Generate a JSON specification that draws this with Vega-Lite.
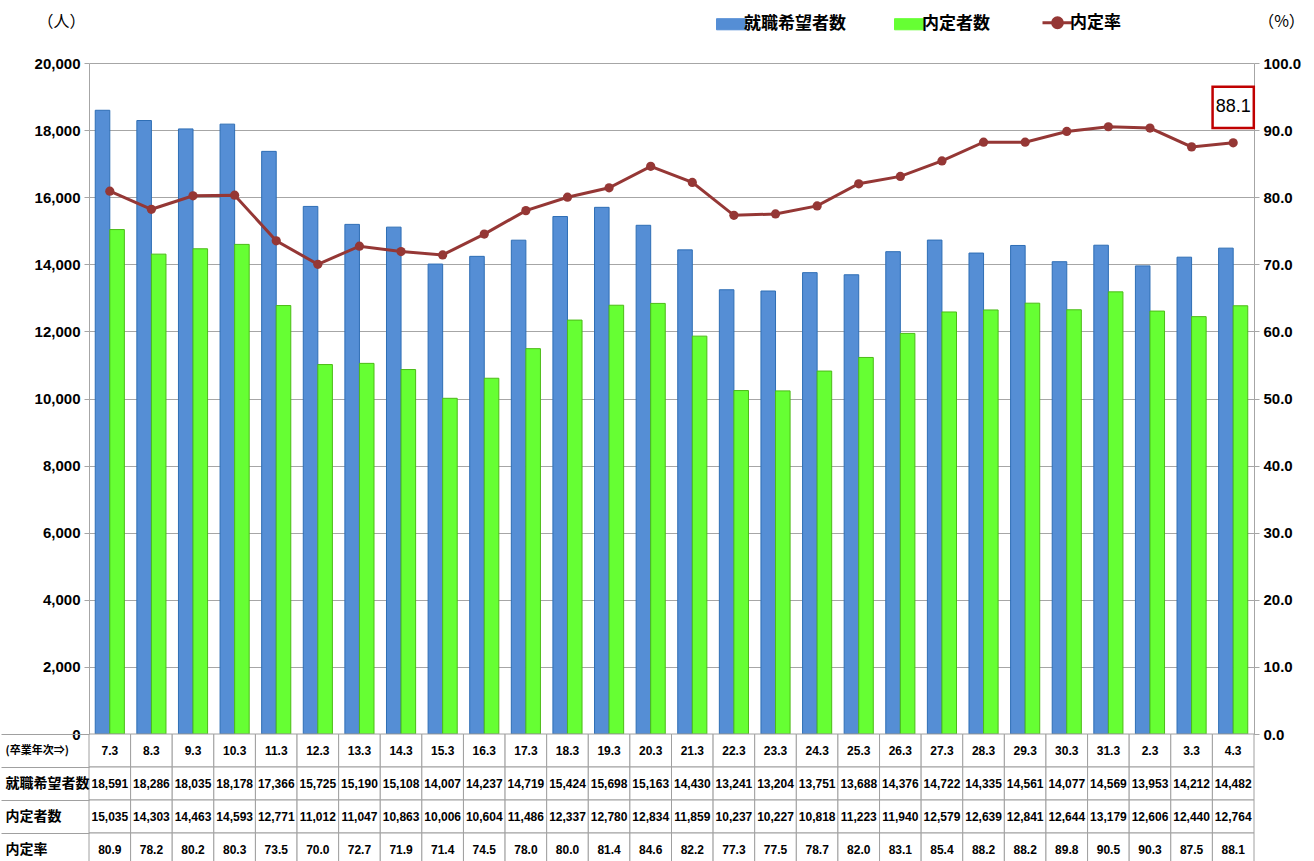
{
  "$schema": "https://vega.github.io/schema/vega-lite/v6.json",
  "padding": {"left": 0, "top": 13, "right": 0, "bottom": 0},
  "spacing": 0,
  "bounds": "flush",
  "datasets": {
    "rows": [
      {"年次": "7.3", "就職希望者数": 18591, "内定者数": 15035, "内定率": 80.9},
      {"年次": "8.3", "就職希望者数": 18286, "内定者数": 14303, "内定率": 78.2},
      {"年次": "9.3", "就職希望者数": 18035, "内定者数": 14463, "内定率": 80.2},
      {"年次": "10.3", "就職希望者数": 18178, "内定者数": 14593, "内定率": 80.3},
      {"年次": "11.3", "就職希望者数": 17366, "内定者数": 12771, "内定率": 73.5},
      {"年次": "12.3", "就職希望者数": 15725, "内定者数": 11012, "内定率": 70.0},
      {"年次": "13.3", "就職希望者数": 15190, "内定者数": 11047, "内定率": 72.7},
      {"年次": "14.3", "就職希望者数": 15108, "内定者数": 10863, "内定率": 71.9},
      {"年次": "15.3", "就職希望者数": 14007, "内定者数": 10006, "内定率": 71.4},
      {"年次": "16.3", "就職希望者数": 14237, "内定者数": 10604, "内定率": 74.5},
      {"年次": "17.3", "就職希望者数": 14719, "内定者数": 11486, "内定率": 78.0},
      {"年次": "18.3", "就職希望者数": 15424, "内定者数": 12337, "内定率": 80.0},
      {"年次": "19.3", "就職希望者数": 15698, "内定者数": 12780, "内定率": 81.4},
      {"年次": "20.3", "就職希望者数": 15163, "内定者数": 12834, "内定率": 84.6},
      {"年次": "21.3", "就職希望者数": 14430, "内定者数": 11859, "内定率": 82.2},
      {"年次": "22.3", "就職希望者数": 13241, "内定者数": 10237, "内定率": 77.3},
      {"年次": "23.3", "就職希望者数": 13204, "内定者数": 10227, "内定率": 77.5},
      {"年次": "24.3", "就職希望者数": 13751, "内定者数": 10818, "内定率": 78.7},
      {"年次": "25.3", "就職希望者数": 13688, "内定者数": 11223, "内定率": 82.0},
      {"年次": "26.3", "就職希望者数": 14376, "内定者数": 11940, "内定率": 83.1},
      {"年次": "27.3", "就職希望者数": 14722, "内定者数": 12579, "内定率": 85.4},
      {"年次": "28.3", "就職希望者数": 14335, "内定者数": 12639, "内定率": 88.2},
      {"年次": "29.3", "就職希望者数": 14561, "内定者数": 12841, "内定率": 88.2},
      {"年次": "30.3", "就職希望者数": 14077, "内定者数": 12644, "内定率": 89.8},
      {"年次": "31.3", "就職希望者数": 14569, "内定者数": 13179, "内定率": 90.5},
      {"年次": "2.3", "就職希望者数": 13953, "内定者数": 12606, "内定率": 90.3},
      {"年次": "3.3", "就職希望者数": 14212, "内定者数": 12440, "内定率": 87.5},
      {"年次": "4.3", "就職希望者数": 14482, "内定者数": 12764, "内定率": 88.1}
    ]
  },
  "vconcat": [
    {
      "width": 1165,
      "height": 671,
      "data": {"name": "rows"},
      "layer": [
        {
          "transform": [{"fold": ["就職希望者数", "内定者数"], "as": ["series", "value"]}],
          "mark": {"type": "bar", "strokeWidth": 1},
          "encoding": {
            "x": {"field": "年次", "type": "nominal", "sort": null, "axis": null,
                  "scale": {"paddingInner": 0.3, "paddingOuter": 0.15}},
            "xOffset": {"field": "series", "type": "nominal", "sort": ["就職希望者数", "内定者数"]},
            "y": {"field": "value", "type": "quantitative",
                  "scale": {"domain": [0, 20000], "nice": false},
                  "axis": {"title": "（人）", "titleAngle": 0, "titleX": -28, "titleY": -42,
                           "titleAlign": "center", "titleBaseline": "middle",
                           "titleFont": "Noto Sans CJK JP", "titleFontSize": 16, "titleFontWeight": "normal",
                           "values": [0, 2000, 4000, 6000, 8000, 10000, 12000, 14000, 16000, 18000, 20000],
                           "format": ",.0f", "grid": true, "gridColor": "#a6a6a6",
                           "domainColor": "#a6a6a6", "tickColor": "#a6a6a6", "tickSize": 5,
                           "labelFont": "Liberation Sans, Arial, sans-serif",
                           "labelFontWeight": "bold", "labelFontSize": 15, "labelColor": "#000000", "labelPadding": 4}},
            "color": {"field": "series", "type": "nominal",
                      "scale": {"domain": ["就職希望者数", "内定者数", "内定率"], "range": ["#558ED5", "#66FF33", "#953735"]},
                      "legend": {"orient": "none", "legendX": 634, "legendY": -49, "direction": "horizontal",
                                 "title": null, "symbolSize": 900, "columnPadding": 46, "labelOffset": 4,
                                 "labelFont": "Noto Sans CJK JP", "labelFontWeight": "bold", "labelFontSize": 17,
                                 "labelColor": "#000000",
                                 "encode": {"symbols": {"update": {
                                   "shape": {"signal": "datum.value === '内定率' ? 'M-1,0H1M-0.33,0A0.33,0.33,0,1,1,0.33,0A0.33,0.33,0,1,1,-0.33,0Z' : 'M-1,-0.37H1V0.37H-1Z'"},
                                   "fill": {"signal": "datum.value === '内定率' ? '#953735' : datum.value === '内定者数' ? '#66FF33' : '#558ED5'"},
                                   "stroke": {"signal": "datum.value === '内定率' ? '#953735' : datum.value === '内定者数' ? '#4CBB17' : '#2E6EB5'"},
                                   "strokeWidth": {"signal": "datum.value === '内定率' ? 3 : 1"},
                                   "opacity": {"value": 1}, "fillOpacity": {"value": 1}}}}}},
            "stroke": {"field": "series", "type": "nominal",
                       "scale": {"domain": ["就職希望者数", "内定者数"], "range": ["#2E6EB5", "#4CBB17"]},
                       "legend": null}
          }
        },
        {
          "mark": {"type": "line", "strokeWidth": 3, "point": {"filled": true, "size": 85}},
          "encoding": {
            "x": {"field": "年次", "type": "nominal", "sort": null},
            "y": {"field": "内定率", "type": "quantitative",
                  "scale": {"domain": [0, 100], "nice": false},
                  "axis": {"orient": "right", "title": "（%）", "titleAngle": 0, "titleX": 27, "titleY": -42,
                           "titleAlign": "center", "titleBaseline": "middle",
                           "titleFont": "Noto Sans CJK JP", "titleFontSize": 16, "titleFontWeight": "normal",
                           "values": [0, 10, 20, 30, 40, 50, 60, 70, 80, 90, 100],
                           "format": ".1f", "grid": false,
                           "domainColor": "#a6a6a6", "tickColor": "#a6a6a6", "tickSize": 5,
                           "labelFont": "Liberation Sans, Arial, sans-serif",
                           "labelFontWeight": "bold", "labelFontSize": 15, "labelColor": "#000000", "labelPadding": 4}},
            "color": {"datum": "内定率"}
          }
        },
        {
          "transform": [{"filter": "datum['年次'] === '4.3'"}],
          "mark": {"type": "point", "shape": "square", "size": 1700, "filled": false, "stroke": "#C00000", "strokeWidth": 2.5, "opacity": 1},
          "encoding": {
            "x": {"field": "年次", "type": "nominal", "sort": null},
            "y": {"datum": 93.4, "type": "quantitative", "scale": {"domain": [0, 100], "nice": false}, "axis": null}
          }
        },
        {
          "transform": [{"filter": "datum['年次'] === '4.3'"}],
          "mark": {"type": "text", "font": "Liberation Sans, Arial, sans-serif", "fontSize": 18, "color": "#000000", "baseline": "middle", "align": "center"},
          "encoding": {
            "x": {"field": "年次", "type": "nominal", "sort": null},
            "y": {"datum": 93.4, "type": "quantitative", "scale": {"domain": [0, 100], "nice": false}, "axis": null},
            "text": {"field": "内定率", "type": "quantitative", "format": ".1f"}
          }
        }
      ],
      "resolve": {"scale": {"y": "independent"}}
    },
    {
      "width": 1165,
      "height": 132,
      "data": {"name": "rows"},
      "encoding": {
        "x": {"field": "年次", "type": "nominal", "sort": null, "axis": null,
              "scale": {"paddingInner": 0, "paddingOuter": 0}}
      },
      "layer": [
        {
          "transform": [{"fold": ["年次", "就職希望者数", "内定者数", "内定率"], "as": ["row", "v"]}],
          "mark": {"type": "rect", "fill": "#ffffff", "stroke": "#a0a0a0", "strokeWidth": 1},
          "encoding": {
            "y": {"field": "row", "type": "nominal",
                  "scale": {"domain": ["年次", "就職希望者数", "内定者数", "内定率"], "paddingInner": 0, "paddingOuter": 0},
                  "axis": {"title": null, "domain": false, "ticks": true, "tickBand": "extent", "tickSize": 88,
                           "tickColor": "#a0a0a0", "labelAlign": "left", "labelPadding": -4,
                           "labelExpr": "datum.value === '年次' ? '(卒業年次⇒)' : datum.value",
                           "labelFont": "Noto Sans CJK JP", "labelFontWeight": "bold",
                           "labelFontSize": {"condition": {"test": "datum.value === '年次'", "value": 11}, "value": 14},
                           "labelColor": "#000000"}}
          }
        },
        {
          "mark": {"type": "text", "font": "Liberation Sans, Arial, sans-serif", "fontWeight": "bold", "fontSize": 12, "color": "#000000"},
          "encoding": {"y": {"datum": "年次", "type": "nominal"}, "text": {"field": "年次", "type": "nominal"}}
        },
        {
          "mark": {"type": "text", "font": "Liberation Sans, Arial, sans-serif", "fontWeight": "bold", "fontSize": 12, "color": "#000000"},
          "encoding": {"y": {"datum": "就職希望者数", "type": "nominal"}, "text": {"field": "就職希望者数", "type": "quantitative", "format": ",.0f"}}
        },
        {
          "mark": {"type": "text", "font": "Liberation Sans, Arial, sans-serif", "fontWeight": "bold", "fontSize": 12, "color": "#000000"},
          "encoding": {"y": {"datum": "内定者数", "type": "nominal"}, "text": {"field": "内定者数", "type": "quantitative", "format": ",.0f"}}
        },
        {
          "mark": {"type": "text", "font": "Liberation Sans, Arial, sans-serif", "fontWeight": "bold", "fontSize": 12, "color": "#000000"},
          "encoding": {"y": {"datum": "内定率", "type": "nominal"}, "text": {"field": "内定率", "type": "quantitative", "format": ".1f"}}
        }
      ]
    }
  ],
  "config": {
    "view": {"stroke": null},
    "background": "#ffffff"
  }
}
